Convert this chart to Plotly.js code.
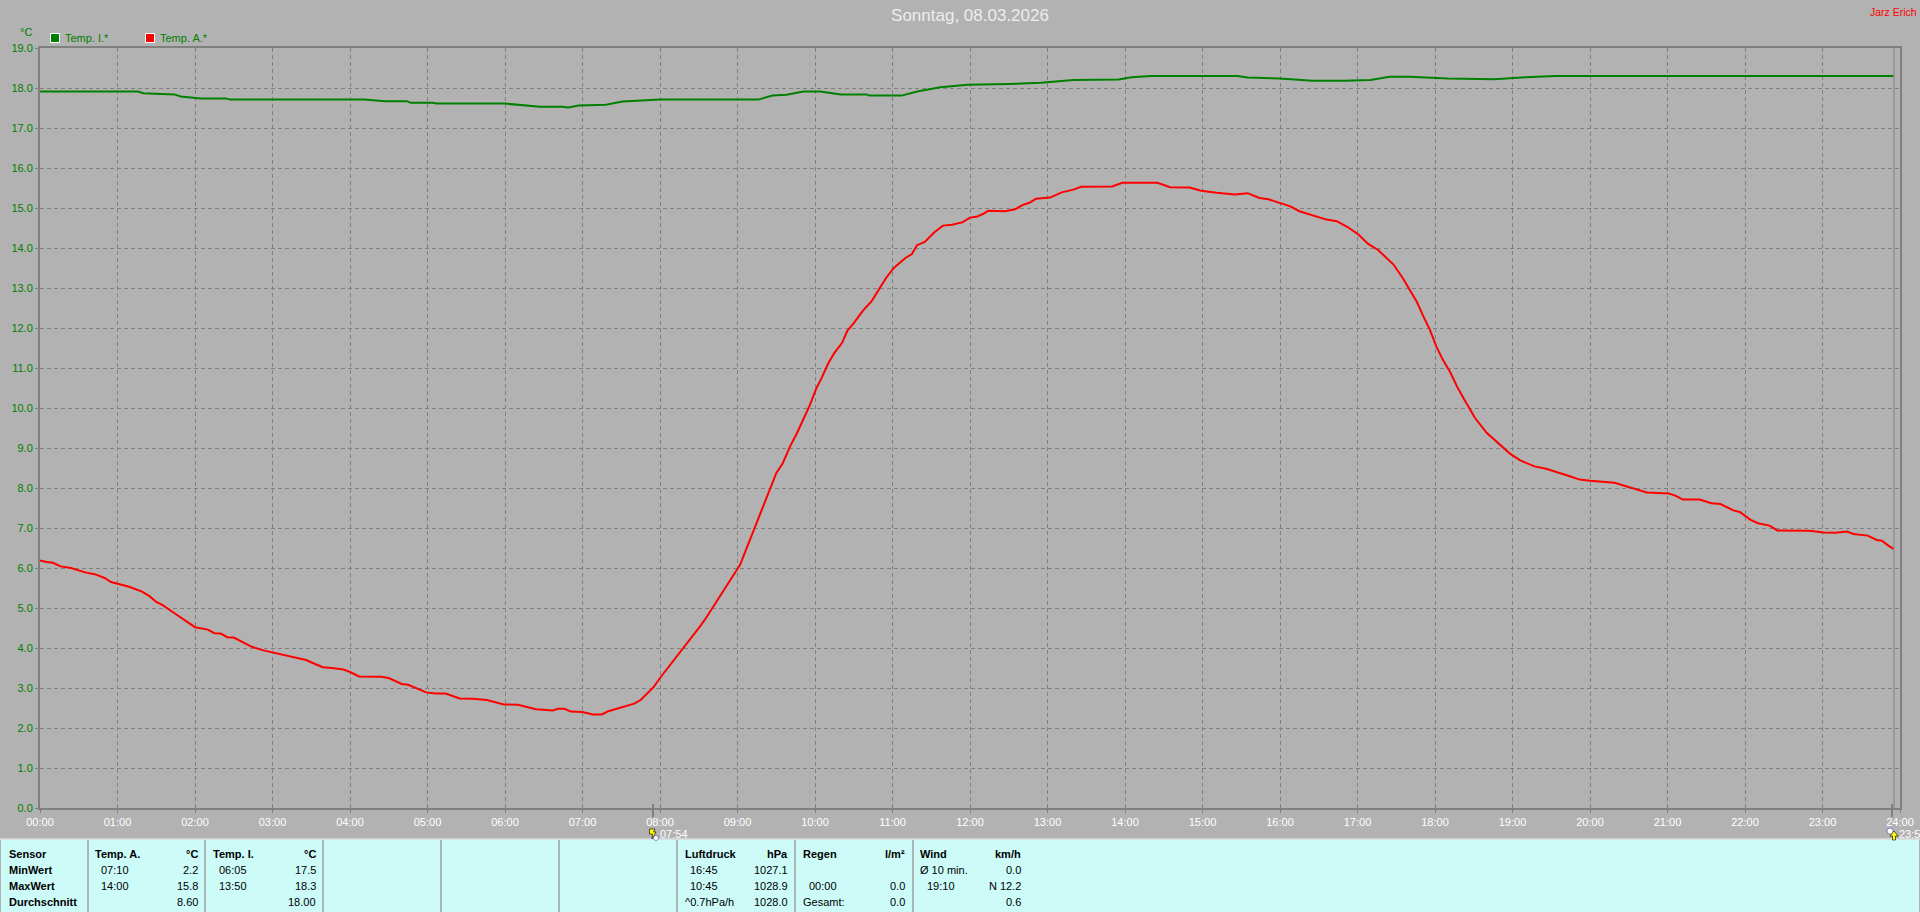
<!DOCTYPE html>
<html>
<head>
<meta charset="utf-8">
<script src="https://cdn.plot.ly/plotly-3.0.1.min.js"></script>
<style>html,body{margin:0;padding:0;background:#B2B2B2;overflow:hidden}#chart{width:1920px;height:912px}</style>
</head>
<body>
<div id="chart"></div>
<script>
// ---- chart values ----
const hourLabels = ["00:00","01:00","02:00","03:00","04:00","05:00","06:00","07:00","08:00","09:00","10:00","11:00","12:00","13:00","14:00","15:00","16:00","17:00","18:00","19:00","20:00","21:00","22:00","23:00","24:00"];
const hourMinutes = [0,60,120,180,240,300,360,420,480,540,600,660,720,780,840,900,960,1020,1080,1140,1200,1260,1320,1380,1440];
const tempTicks = [0,1,2,3,4,5,6,7,8,9,10,11,12,13,14,15,16,17,18,19];

const outdoorMinutes = [0,5,10,16,24,35,43,50,55,60,69,79,85,90,95,105,112,120,130,135,140,145,150,157,164,173,180,188,197,206,213,219,226,235,240,247,264,270,280,285,299,306,314,325,335,346,359,370,384,397,401,406,411,420,428,435,440,451,460,465,470,475,480,489,496,503,511,515,523,529,538,542,547,553,557,561,566,570,575,581,586,591,596,601,605,610,615,621,625,630,637,644,650,655,661,664,670,675,679,685,692,699,706,714,720,725,730,734,741,747,755,761,766,771,782,791,800,806,830,838,865,875,890,899,911,925,935,944,951,960,968,975,987,996,1004,1012,1021,1028,1036,1043,1048,1055,1061,1066,1071,1076,1081,1086,1092,1097,1102,1106,1111,1120,1128,1138,1146,1157,1166,1176,1182,1192,1200,1219,1234,1244,1261,1266,1272,1285,1294,1301,1311,1316,1324,1330,1339,1345,1370,1381,1390,1399,1404,1415,1422,1426,1431,1435];
const outdoorTemp = [6.19,6.15,6.13,6.04,6.0,5.89,5.84,5.75,5.65,5.61,5.53,5.41,5.29,5.15,5.07,4.85,4.69,4.52,4.46,4.37,4.36,4.27,4.26,4.14,4.03,3.94,3.89,3.84,3.77,3.70,3.60,3.52,3.50,3.46,3.40,3.29,3.28,3.25,3.10,3.08,2.89,2.86,2.86,2.74,2.73,2.70,2.59,2.58,2.47,2.44,2.48,2.48,2.41,2.40,2.34,2.34,2.42,2.52,2.61,2.70,2.85,3.02,3.25,3.62,3.92,4.21,4.54,4.72,5.12,5.45,5.87,6.08,6.49,6.99,7.28,7.66,8.03,8.37,8.62,9.06,9.37,9.74,10.07,10.49,10.74,11.1,11.38,11.63,11.93,12.12,12.43,12.68,13.0,13.25,13.5,13.58,13.75,13.85,14.07,14.15,14.38,14.56,14.58,14.64,14.76,14.78,14.85,14.93,14.92,14.92,14.97,15.08,15.13,15.23,15.26,15.39,15.46,15.53,15.54,15.63,15.63,15.52,15.51,15.43,15.38,15.34,15.37,15.25,15.22,15.13,15.04,14.92,14.81,14.71,14.67,14.53,14.33,14.11,13.95,13.73,13.58,13.25,12.94,12.65,12.29,11.96,11.54,11.21,10.88,10.54,10.25,10.04,9.75,9.38,9.15,8.86,8.69,8.54,8.48,8.39,8.32,8.21,8.18,8.13,7.99,7.89,7.86,7.81,7.71,7.71,7.62,7.6,7.44,7.4,7.21,7.12,7.06,6.94,6.93,6.89,6.88,6.91,6.85,6.81,6.7,6.68,6.56,6.48];

const indoorMinutes = [0,76,80,104,109,124,144,147,251,267,284,287,304,307,360,376,387,404,409,417,438,451,462,480,556,567,578,591,604,620,640,642,667,680,697,718,750,775,800,835,845,860,927,935,960,985,1010,1030,1045,1060,1090,1110,1126,1150,1173,1435];
const indoorTemp = [17.91,17.91,17.87,17.84,17.79,17.74,17.74,17.71,17.71,17.67,17.67,17.63,17.63,17.61,17.61,17.57,17.53,17.53,17.51,17.56,17.58,17.66,17.68,17.71,17.71,17.81,17.83,17.91,17.91,17.84,17.84,17.81,17.81,17.92,18.02,18.08,18.1,18.13,18.2,18.21,18.27,18.3,18.3,18.26,18.24,18.18,18.18,18.2,18.28,18.28,18.24,18.22,18.22,18.27,18.3,18.3];

const titleText = "Sonntag, 08.03.2026";
const ownerText = "Jarz Erich";
const unitText = "°C";
const seriesNames = ["Temp. I.*","Temp. A.*"];
const rowLabels = ["Sensor","MinWert","MaxWert","Durchschnitt"];
const eventStart = "07:54";
const eventEnd = "23:55";

const colTempA = {head:"Temp. A.", unit:"°C", times:["07:10","14:00",""], vals:["2.2","15.8","8.60"]};
const colTempI = {head:"Temp. I.", unit:"°C", times:["06:05","13:50",""], vals:["17.5","18.3","18.00"]};
const colPress = {head:"Luftdruck", unit:"hPa", times:["16:45","10:45",""], vals:["1027.1","1028.9","1028.0"]};
const colRain  = {head:"Regen", unit:"l/m²", times:["","00:00",""], vals:["","0.0","0.0"]};
const colWind  = {head:"Wind", unit:"km/h", times:["","19:10",""], vals:["0.0","N 12.2","0.6"]};
const pressTrend = "^0.7hPa/h";
const rainTotal = "Gesamt:";
const windAvg = "Ø 10 min.";

// ---- page geometry ----
const W=1920,H=912,L=40,R=1900,T=48,B=808;
const px=x=>(x-L)/(R-L);
const py=y=>(B-y)/(B-T);
const font="Liberation Sans, Arial, sans-serif";
const GRAY="#808080",GREEN="#008000",REDC="#FF0000",PANEL="#CCFBF8";

const shapes=[], annotations=[];
function rect(x0,y0,x1,y1,fill,line,lw){shapes.push({type:"rect",xref:"paper",yref:"paper",x0:px(x0),x1:px(x1),y0:py(y0),y1:py(y1),fillcolor:fill,line:{color:line||fill,width:lw===undefined?0:lw},layer:"above"});}
function seg(x0,y0,x1,y1,c,w){shapes.push({type:"line",xref:"paper",yref:"paper",x0:px(x0),x1:px(x1),y0:py(y0),y1:py(y1),line:{color:c,width:w},layer:"above"});}
function poly(pts,fill){const d=pts.map((p,i)=>(i?"L":"M")+px(p[0])+","+py(p[1])).join(" ")+" Z";shapes.push({type:"path",xref:"paper",yref:"paper",path:d,fillcolor:fill,line:{color:"#000000",width:0.6},layer:"above"});}
function dot(x,y,r){shapes.push({type:"circle",xref:"paper",yref:"paper",x0:px(x-r),x1:px(x+r),y0:py(y-r),y1:py(y+r),fillcolor:"#FFFFFF",line:{color:"#3030A0",width:0.5},layer:"above"});}
function txt(x,y,s,o){o=o||{};annotations.push({xref:"paper",yref:"paper",x:px(x),y:py(y),text:s,showarrow:false,xanchor:o.a||"left",yanchor:"middle",borderpad:0,borderwidth:0,font:{family:font,size:o.s||11,color:o.c||"#000000",weight:o.b?700:400}});}

// right edge lines
seg(1894,48,1894,808,GRAY,1);

// legend
rect(50.5,33.5,59.5,42.5,GREEN,"#FFFFFF",1);
txt(65,38,seriesNames[0],{c:GREEN});
rect(145.5,33.5,154.5,42.5,REDC,"#FFFFFF",1);
txt(160,38,seriesNames[1],{c:GREEN});
txt(20,32,unitText,{c:GREEN});
txt(1917,12,ownerText,{a:"right",c:REDC,s:10.5});

// bottom panel
rect(1,839.5,1919,912,PANEL);
seg(0,839,1920,839,"#F0F0F0",1);
[88,205,323,441,559,677,795,913].forEach(x=>seg(x,840,x,912,"#A0A0A0",1.5));

// event markers
seg(653,804,653,817,GRAY,2);
seg(1892,804,1892,817,GRAY,2);
poly([[649.5,829],[655,829],[653.5,832],[656,832],[652,839],[652.5,834],[649.5,834]],"#FFFF00");
poly([[1894,831],[1898,836],[1895.5,836],[1895.5,840],[1892.5,840],[1892.5,836],[1890,836]],"#FFFF00");
dot(656,838,2.5);
dot(1890,831,3);
txt(660,834,eventStart,{c:"#FFFFFF"});
txt(1899,834,eventEnd,{c:"#FFFFFF"});

const rowY=[854,870,886,902];
rowLabels.forEach((s,i)=>txt(9,rowY[i],s,{b:true}));
function column(c,xHead,xTime,xRight){
  txt(xHead,rowY[0],c.head,{b:true});
  txt(xRight,rowY[0],c.unit,{a:"right",b:true});
  c.times.forEach((t,i)=>{if(t)txt(xTime,rowY[i+1],t);});
  c.vals.forEach((v,i)=>{if(v)txt(xRight,rowY[i+1],v,{a:"right"});});
}
column(colTempA,95,101,198);
column(colTempI,213,219,316);
column(colPress,685,690,788);
column(colRain,802.5,809,905);
column(colWind,920,927,1021);
txt(685,rowY[3],pressTrend);
txt(802.5,rowY[3],rainTotal);
txt(920,rowY[1],windAvg);

const traces=[
 {x:indoorMinutes,y:indoorTemp,name:seriesNames[0],type:"scatter",mode:"lines",line:{color:GREEN,width:2,shape:"linear"},hoverinfo:"skip"},
 {x:outdoorMinutes,y:outdoorTemp,name:seriesNames[1],type:"scatter",mode:"lines",line:{color:REDC,width:2,shape:"linear"},hoverinfo:"skip"}
];

const layout={
 width:W,height:H,showlegend:false,
 paper_bgcolor:"#B2B2B2",plot_bgcolor:"#B2B2B2",
 margin:{l:L,r:W-R,t:T,b:H-B,pad:0},
 title:{text:titleText,x:970/W,y:1-15/H,xref:"container",yref:"container",xanchor:"center",yanchor:"middle",font:{family:font,size:17,color:"#EDEDED"}},
 xaxis:{range:[0,1440],tickmode:"array",tickvals:hourMinutes,ticktext:hourLabels,showgrid:true,gridcolor:GRAY,gridwidth:1,griddash:"4px,3px",zeroline:false,showline:true,mirror:true,linecolor:GRAY,linewidth:2,ticks:"outside",ticklen:3,tickcolor:GRAY,tickwidth:1,tickfont:{family:font,size:11,color:"#FFFFFF"},automargin:false,fixedrange:true},
 yaxis:{range:[0,19],tickmode:"array",tickvals:tempTicks,ticktext:tempTicks.map(v=>v.toFixed(1)),showgrid:true,gridcolor:GRAY,gridwidth:1,griddash:"4px,3px",zeroline:false,showline:true,mirror:true,linecolor:GRAY,linewidth:2,ticks:"outside",ticklen:3,tickcolor:GRAY,tickwidth:1,tickfont:{family:font,size:11,color:GREEN},automargin:false,fixedrange:true},
 shapes:shapes,annotations:annotations
};
Plotly.newPlot("chart",traces,layout,{displayModeBar:false,staticPlot:true});
</script>
</body>
</html>
